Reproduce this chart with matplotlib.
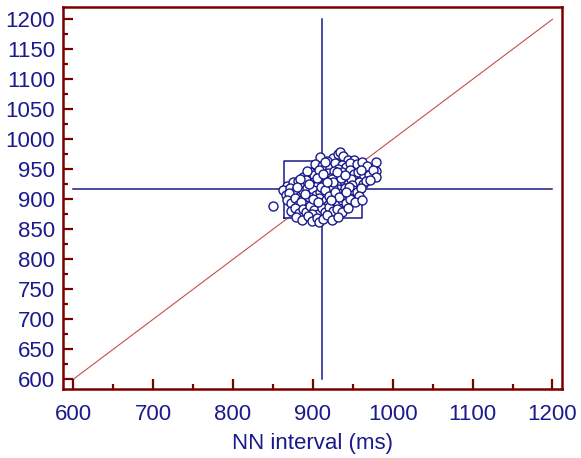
import matplotlib
matplotlib.use("Agg")
import matplotlib.pyplot as plt
from matplotlib.ticker import MultipleLocator

# NN(i) vs NN(i+1) pairs
nn_x = [909, 925, 931, 934, 938, 944, 918, 952,
        903, 912, 921, 928, 936, 942, 947, 955, 962, 979, 968, 915, 932,
        888, 897, 901, 908, 914, 919, 926, 930, 937, 941, 946, 951, 957, 964,
        970, 979, 975, 979, 960, 893, 922,
        868, 875, 881, 886, 892, 897, 902, 907, 911, 916, 920, 924, 929, 934,
        939, 944, 948, 953, 958, 963, 967, 972, 949, 905, 884,
        863, 866, 871, 876, 879, 884, 888, 893, 896, 900, 904, 909, 913, 917,
        921, 926, 931, 935, 940, 945, 950, 955, 960, 938, 891, 925, 870, 958,
        850, 868, 873, 878, 882, 887, 891, 895, 899, 904, 908, 912, 917, 922,
        927, 932, 936, 941, 947, 953, 962, 885, 919,
        872, 877, 883, 888, 892, 897, 902, 906, 911, 915, 920, 925, 930, 936,
        944, 899,
        879, 887, 894, 899, 905, 908, 913, 918, 924, 931,
        910, 915, 925, 935, 900, 920, 930, 940, 945, 895, 905, 928, 918, 933,
        942, 907, 913, 923, 890, 880]
nn_y = [970, 968, 975, 978, 972, 966, 964, 965,
        958, 955, 952, 960, 957, 953, 961, 958, 962, 962, 956, 962, 951,
        937, 945, 941, 948, 938, 944, 947, 939, 945, 936, 949, 942, 946, 938,
        941, 947, 949, 937, 948, 947, 936,
        922, 928, 930, 924, 932, 921, 928, 933, 925, 930, 922, 934, 927, 923,
        931, 926, 933, 921, 929, 925, 930, 932, 924, 922, 933,
        915, 907, 918, 910, 916, 906, 913, 919, 909, 915, 907, 912, 918, 906,
        914, 909, 917, 911, 918, 908, 915, 912, 918, 905, 904, 919, 911, 906,
        889, 898, 893, 902, 891, 899, 894, 903, 890, 897, 902, 893, 899, 895,
        903, 891, 898, 893, 900, 895, 899, 895, 891,
        880, 886, 877, 884, 879, 888, 882, 876, 885, 879, 887, 881, 884, 878,
        886, 876,
        870, 866, 872, 864, 869, 862, 867, 873, 866, 871,
        920, 915, 928, 935, 900, 905, 945, 940, 920, 925, 935, 912, 928, 903,
        912, 895, 942, 898, 908, 920]

mean_x = 912
mean_y = 917
box_x = [864, 962]
box_y = [869, 963]
line_span = [600, 1200]

navy = "#1a1a8c"
maroon = "#7a0000"

plt.rcParams["font.family"] = ["Liberation Sans", "DejaVu Sans"]

fig = plt.figure(figsize=(5.81, 4.58), dpi=100)
ax = fig.add_axes([0.109, 0.151, 0.859, 0.833])

# identity line
ax.plot(line_span, line_span, color="#c05050", lw=0.8, zorder=1)
# crosshair at the means
ax.plot([mean_x, mean_x], line_span, color=navy, lw=1.1, zorder=2)
ax.plot(line_span, [mean_y, mean_y], color=navy, lw=1.1, zorder=2)
# box
ax.plot([box_x[0], box_x[1], box_x[1], box_x[0], box_x[0]],
        [box_y[0], box_y[0], box_y[1], box_y[1], box_y[0]],
        color=navy, lw=1.1, zorder=2)

ax.scatter(nn_x, nn_y, s=42, facecolors="white", edgecolors=navy,
           linewidths=1.0, zorder=3)

ax.set_xlim(587.5, 1212.5)
ax.set_ylim(584, 1220)
ax.xaxis.set_major_locator(MultipleLocator(100))
ax.xaxis.set_minor_locator(MultipleLocator(50))
ax.yaxis.set_major_locator(MultipleLocator(50))
ax.yaxis.set_minor_locator(MultipleLocator(25))

for s in ax.spines.values():
    s.set_color(maroon)
    s.set_linewidth(1.8)
ax.tick_params(which="both", direction="in", color=maroon, width=1.6,
               labelcolor=navy, labelsize=16)
ax.tick_params(which="major", length=7)
ax.tick_params(which="minor", length=3.5)
ax.tick_params(axis="x", pad=11)
ax.tick_params(axis="y", pad=6)

ax.set_xlabel("NN interval (ms)", fontsize=16, color=navy, labelpad=6)

fig.savefig("out.png", dpi=100)
